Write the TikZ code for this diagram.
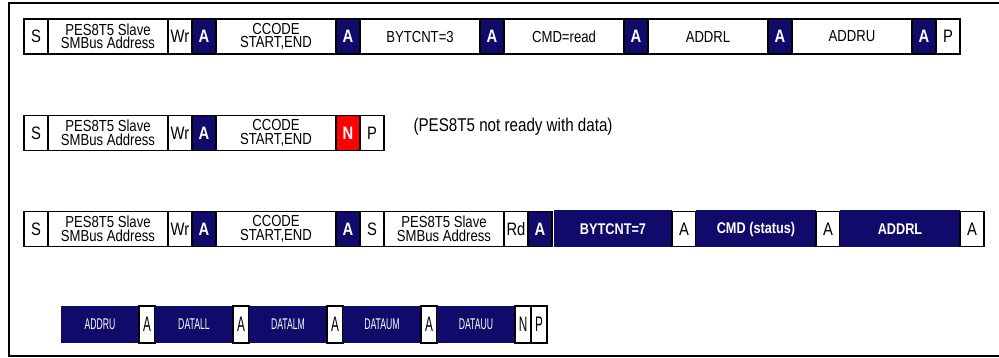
\documentclass[tikz,border=0pt]{standalone}
\usepackage{fontspec}
\setmainfont[FakeStretch=0.82]{Liberation Sans}
\newfontfamily\squeezefont[FakeStretch=0.56]{Liberation Sans}
\usetikzlibrary{positioning}

\definecolor{busnavy}{RGB}{16,10,106}
\definecolor{busred}{RGB}{255,0,0}

\tikzset{
  cell/.style={draw=black,line width=1.6pt,fill=white,inner sep=0pt,outer sep=0pt,minimum height=35pt},
  bit/.style={cell,minimum width=24pt,font=\fontsize{18}{18}\selectfont},
  field/.style={cell,minimum width=120pt,align=center,font=\fontsize{16}{13.5}\selectfont},
  ack/.style={bit,fill=busnavy,text=white,font=\fontsize{18}{18}\selectfont\bfseries},
  nak/.style={ack,fill=busred},
  darkfield/.style={field,draw=none,minimum height=37pt,fill=busnavy,text=white,font=\fontsize{15.5}{13}\selectfont\bfseries},
  slimbit/.style={cell,minimum width=16pt,minimum height=37pt,font=\squeezefont\fontsize{21}{21}\selectfont},
  slimfield/.style={cell,draw=none,minimum width=78pt,minimum height=37pt,fill=busnavy,text=white,font=\squeezefont\fontsize{15.5}{15.5}\selectfont},
}

\begin{document}
\begin{tikzpicture}[x=1pt,y=-1pt]

\useasboundingbox (0,0) rectangle (999,358);
\draw[line width=2pt] (8.5,3) rectangle (1003,356);

% write block
\node[bit,anchor=west] (r1s) at (24,36.5) {S};
\node[field,right=0pt of r1s] (r1addr) {PES8T5 Slave\\SMBus Address};
\node[bit,right=0pt of r1addr] (r1wr) {Wr};
\node[ack,right=0pt of r1wr] (r1a1) {A};
\node[field,right=0pt of r1a1] (r1ccode) {CCODE\\START,END};
\node[ack,right=0pt of r1ccode] (r1a2) {A};
\node[field,right=0pt of r1a2] (r1cnt) {BYTCNT=3};
\node[ack,right=0pt of r1cnt] (r1a3) {A};
\node[field,right=0pt of r1a3] (r1cmd) {CMD=read};
\node[ack,right=0pt of r1cmd] (r1a4) {A};
\node[field,right=0pt of r1a4] (r1addrl) {ADDRL};
\node[ack,right=0pt of r1addrl] (r1a5) {A};
\node[field,right=0pt of r1a5] (r1addru) {ADDRU};
\node[ack,right=0pt of r1addru] (r1a6) {A};
\node[bit,right=0pt of r1a6] (r1p) {P};

% not ready
\node[bit,anchor=west] (r2s) at (24,133) {S};
\node[field,right=0pt of r2s] (r2addr) {PES8T5 Slave\\SMBus Address};
\node[bit,right=0pt of r2addr] (r2wr) {Wr};
\node[ack,right=0pt of r2wr] (r2a1) {A};
\node[field,right=0pt of r2a1] (r2ccode) {CCODE\\START,END};
\node[nak,right=0pt of r2ccode] (r2n) {N};
\node[bit,right=0pt of r2n] (r2p) {P};
\node[anchor=west,font=\fontsize{18.5}{18.5}\selectfont] (r2note) at (410,127) {(PES8T5 not ready with data)};

% read block
\node[bit,anchor=west] (r3s) at (24,229) {S};
\node[field,right=0pt of r3s] (r3addr) {PES8T5 Slave\\SMBus Address};
\node[bit,right=0pt of r3addr] (r3wr) {Wr};
\node[ack,right=0pt of r3wr] (r3a1) {A};
\node[field,right=0pt of r3a1] (r3ccode) {CCODE\\START,END};
\node[ack,right=0pt of r3ccode] (r3a2) {A};
\node[bit,right=0pt of r3a2] (r3sr) {S};
\node[field,right=0pt of r3sr] (r3raddr) {PES8T5 Slave\\SMBus Address};
\node[bit,right=0pt of r3raddr] (r3rd) {Rd};
\node[ack,right=0pt of r3rd] (r3a3) {A};
\node[darkfield,minimum width=118pt,right=2pt of r3a3] (r3cnt) {BYTCNT=7};
\node[bit,right=0pt of r3cnt] (r3a4) {A};
\node[darkfield,right=0pt of r3a4] (r3cmd) {CMD (status)};
\node[bit,right=0pt of r3cmd] (r3a5) {A};
\node[darkfield,right=0pt of r3a5] (r3addrl) {ADDRL};
\node[bit,right=0pt of r3addrl] (r3a6) {A};

\node[slimfield,anchor=west] (r4addru) at (61,324.5) {ADDRU};
\node[slimbit,right=0pt of r4addru] (r4a1) {A};
\node[slimfield,right=0pt of r4a1] (r4dll) {DATALL};
\node[slimbit,right=0pt of r4dll] (r4a2) {A};
\node[slimfield,right=0pt of r4a2] (r4dlm) {DATALM};
\node[slimbit,right=0pt of r4dlm] (r4a3) {A};
\node[slimfield,right=0pt of r4a3] (r4dum) {DATAUM};
\node[slimbit,right=0pt of r4dum] (r4a4) {A};
\node[slimfield,right=0pt of r4a4] (r4duu) {DATAUU};
\node[slimbit,right=0pt of r4duu] (r4n) {N};
\node[slimbit,right=0pt of r4n] (r4p) {P};

\end{tikzpicture}
\end{document}
